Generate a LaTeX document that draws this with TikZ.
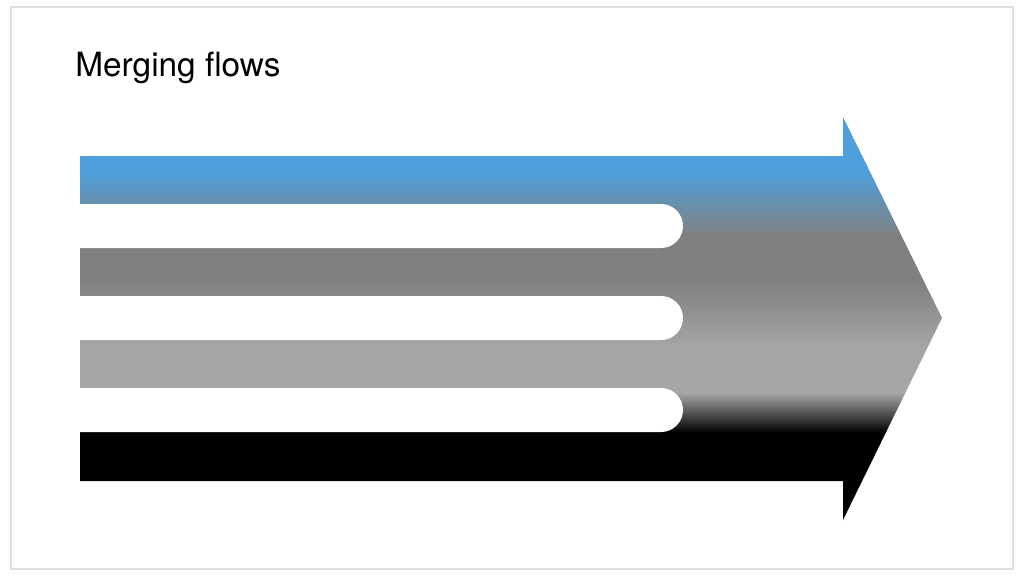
\documentclass[tikz,border=0pt]{standalone}
\usepackage{fontspec}
\setmainfont{TeX Gyre Heros}
\usepackage{tikz}
\usetikzlibrary{positioning}

\definecolor{flowblue}{RGB}{79,159,220}
\definecolor{flowgray}{RGB}{128,128,128}
\definecolor{flowlight}{RGB}{166,166,166}
\definecolor{framegray}{RGB}{222,222,222}

% vertical blend of the four flows (0bp = bottom, 100bp = top)
\pgfdeclareverticalshading{mergeshade}{100bp}{%
  color(0bp)=(black); color(35.8bp)=(black);
  color(40.8bp)=(flowlight); color(46.4bp)=(flowlight);
  color(54.5bp)=(flowgray); color(60.3bp)=(flowgray);
  color(68.2bp)=(flowblue); color(100bp)=(flowblue)}

\tikzset{
  title/.style={anchor=base west, inner sep=0pt, font=\fontsize{19}{23}\selectfont},
  slot/.style={fill=white},
  frame/.style={draw=framegray, line width=1.2pt}
}

\begin{document}
\begin{tikzpicture}[x=0.02cm,y=-0.02cm]
				\useasboundingbox (0,0) rectangle (1024,576);
				\draw[frame] (11,7) rectangle (1013,569);
				\node[title] (title) at (75,76) {Merging flows};
				% the arrow
				\shade[shading=mergeshade] (80,156) -- (843,156) -- (843,117) -- (942,318)
					-- (843,520) -- (843,481) -- (80,481) -- cycle;
				% white gaps between the flows
				\foreach \y in {204,296,388}
					\fill[slot] (70,\y) -- (661,\y) arc (-90:90:22) -- (70,\y+44) -- cycle;
			\end{tikzpicture}
\end{document}
